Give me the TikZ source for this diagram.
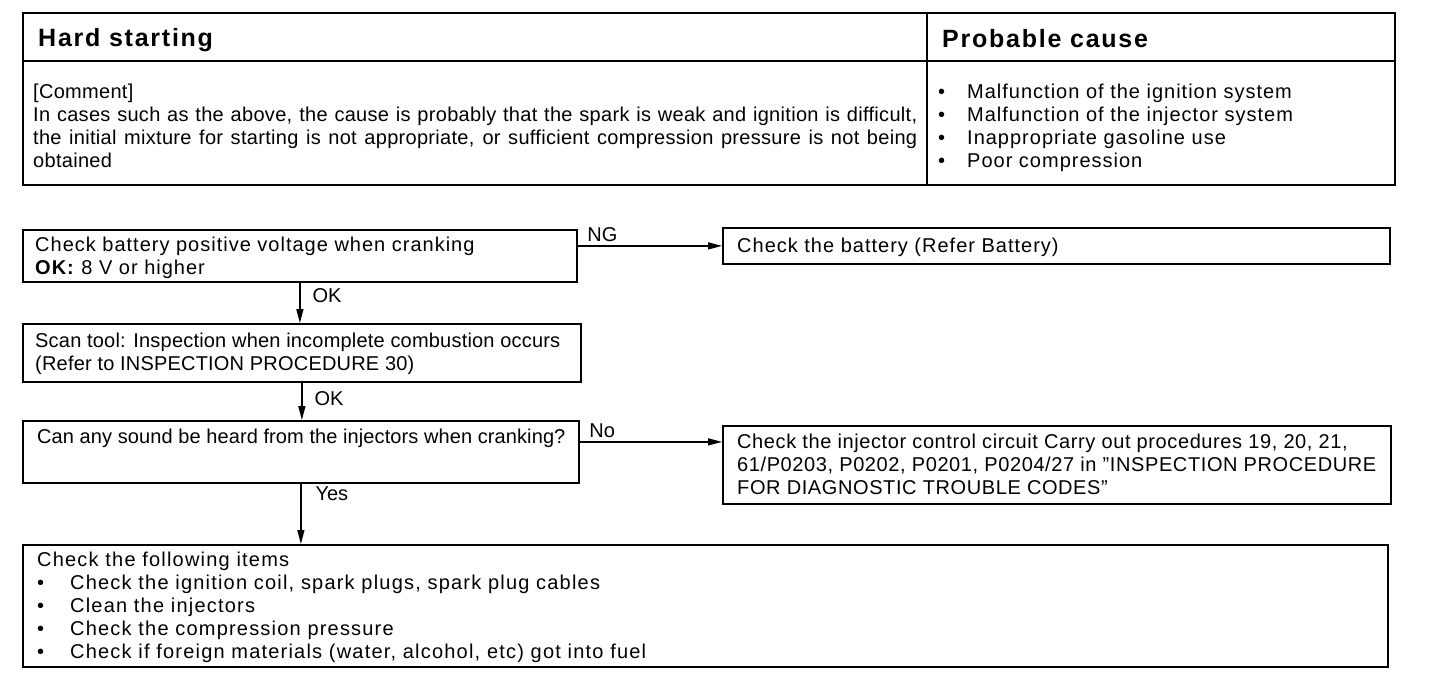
\documentclass[tikz,border=0pt]{standalone}
\usepackage{fontspec}
\setmainfont{Liberation Sans}
\usetikzlibrary{arrows.meta, positioning}
\tikzset{
  box/.style={draw, line width=1.8pt, anchor=north west, inner sep=0pt},
  txt/.style={anchor=north west, inner sep=0pt, align=left,
    font=\fontsize{20}{23}\selectfont\addfontfeature{LetterSpace=#1},
    execute at begin node=\strut},
  txt/.default=5,
  head/.style={anchor=west, inner sep=0pt,
    font=\fontsize{25}{28}\selectfont\bfseries\addfontfeature{LetterSpace=7}},
  lbl/.style={inner sep=0pt, font=\fontsize{20}{22}\selectfont},
  farr/.style={-{Triangle[length=14pt,width=7pt]}, line width=1.3pt}
}
\newcommand{\itm}[1][33pt]{\makebox[#1][l]{\textbullet}}

\begin{document}
\begin{tikzpicture}[x=1pt, y=-1pt]
  \useasboundingbox (0,0) rectangle (1440,686);
  % header table
  \node[box, minimum width=904pt, minimum height=48pt]  (hs) at (22,12)  {};
  \node[box, minimum width=468pt, minimum height=48pt]  (pc) at (926,12) {};
  \node[box, minimum width=904pt, minimum height=124pt] (cm) at (22,60)  {};
  \node[box, minimum width=468pt, minimum height=124pt] (cs) at (926,60) {};
  \node[head] (hst) at ([shift={(16,3)}]hs.west) {Hard starting};
  \node[head] (pct) at ([shift={(16,2)}]pc.west) {Probable cause};
  \node[txt=1.5, text width=884pt, align=justify] (cmt) at ([shift={(11,22)}]cm.north west)
    {[Comment]\\
     In cases such as the above, the cause is probably that the spark is weak and ignition is difficult,\linebreak
     the initial mixture for starting is not appropriate, or sufficient compression pressure is not being\linebreak
     obtained};
  \node[txt] (cst) at ([shift={(12,24)}]cs.north west)
    {\itm[29pt]Malfunction of the ignition system\\
     \itm[29pt]Malfunction of the injector system\\
     \itm[29pt]Inappropriate gasoline use\\
     \itm[29pt]Poor compression};

  % flow
  \node[box, minimum width=554pt, minimum height=52pt]   (bat)  at (22,229)  {};
  \node[box, minimum width=667pt, minimum height=36pt]   (batr) at (722,227) {};
  \node[box, minimum width=558pt, minimum height=58pt]   (scan) at (22,323)  {};
  \node[box, minimum width=556pt, minimum height=62pt]   (snd)  at (22,420)  {};
  \node[box, minimum width=668pt, minimum height=78pt]   (inj)  at (722,425) {};
  \node[box, minimum width=1365pt, minimum height=122pt] (chk)  at (22,544)  {};

  \node[txt] (batt) at ([shift={(13,8)}]bat.north west)
    {Check battery positive voltage when cranking\\
     \textbf{OK:} 8 V or higher};
  \node[txt] (batrt) at ([shift={(15,9)}]batr.north west)
    {Check the battery (Refer Battery)};
  \node[txt=1] (scant) at ([shift={(13,10)}]scan.north west)
    {Scan tool: Inspection when incomplete combustion occurs\\
     (Refer to INSPECTION PROCEDURE 30)};
  \node[txt=0.5] (sndt) at ([shift={(15,7)}]snd.north west)
    {Can any sound be heard from the injectors when cranking?};
  \node[txt=3] (injt) at ([shift={(15,9)}]inj.north west)
    {Check the injector control circuit Carry out procedures 19, 20, 21,\\
     61/P0203, P0202, P0201, P0204/27 in "INSPECTION PROCEDURE\\
     FOR DIAGNOSTIC TROUBLE CODES"};
  \node[txt=6] (chkt) at ([shift={(15,8)}]chk.north west)
    {Check the following items\\
     \itm Check the ignition coil, spark plugs, spark plug cables\\
     \itm Clean the injectors\\
     \itm Check the compression pressure\\
     \itm Check if foreign materials (water, alcohol, etc) got into fuel};

  \draw[farr] (batr.west -| bat.east) -- (batr.west)
    node[lbl, pos=0, anchor=south west, xshift=9pt, yshift=4pt] {NG};
  \draw[farr] (bat.south) -- (bat.south |- scan.north)
    node[lbl, pos=0.33, anchor=west, xshift=12pt] {OK};
  \draw[farr] (scan.south) -- (scan.south |- snd.north)
    node[lbl, pos=0.42, anchor=west, xshift=12pt] {OK};
  \draw[farr] ([yshift=10pt]snd.east) -- ([yshift=10pt]snd.east -| inj.west)
    node[lbl, pos=0, anchor=south west, xshift=9pt, yshift=4pt] {No};
  \draw[farr] (snd.south) -- (snd.south |- chk.north)
    node[lbl, pos=0.17, anchor=west, xshift=14pt] {Yes};
\end{tikzpicture}
\end{document}
